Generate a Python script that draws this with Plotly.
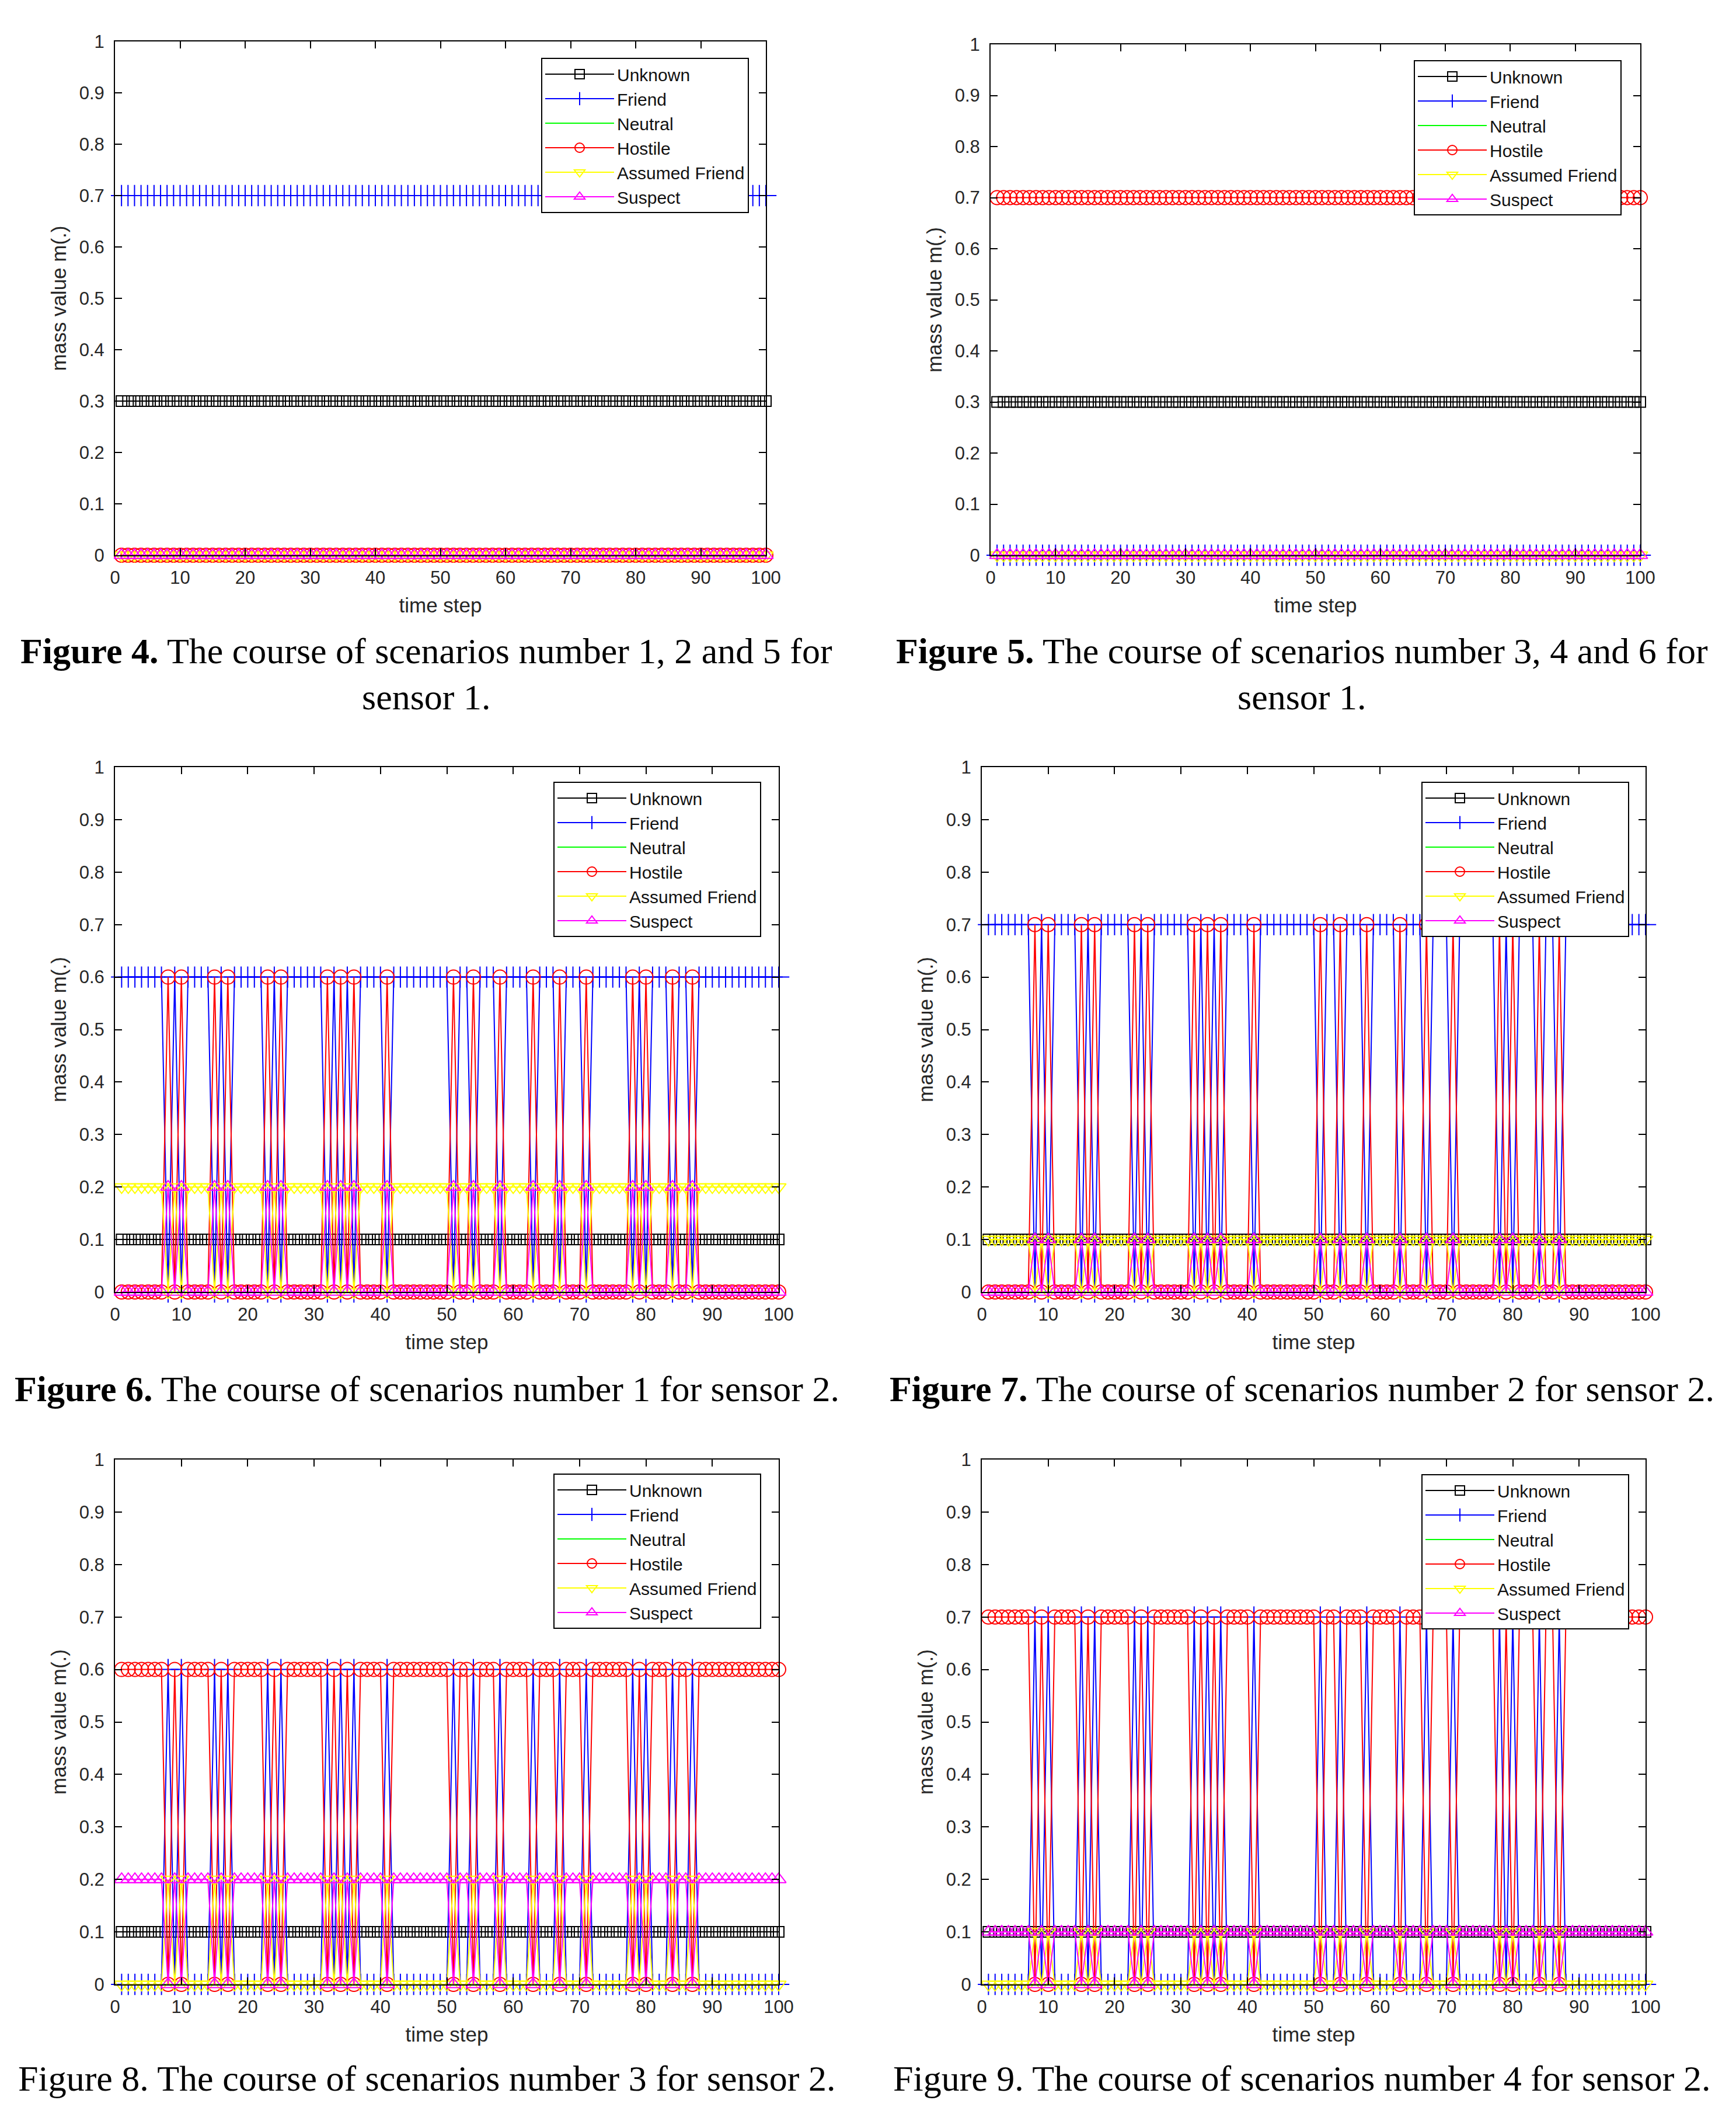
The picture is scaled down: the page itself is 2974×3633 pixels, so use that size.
import plotly.graph_objects as go

W, H = 2974, 3633

# DATA
time_step = list(range(1, 102))
spike_steps = [8, 10, 15, 17, 23, 25, 32, 34, 36, 41, 51, 54, 58, 63, 67, 71, 78, 80, 84, 87]
classes = ["Unknown", "Friend", "Neutral", "Hostile", "Assumed Friend", "Suspect"]

# mass value of each class on ordinary steps / on spike steps
fig4_base = [0.3, 0.7, 0, 0, 0, 0]
fig5_base = [0.3, 0, 0, 0.7, 0, 0]
fig6_base = [0.1, 0.6, 0, 0, 0.2, 0]
fig6_spike = [0.1, 0, 0, 0.6, 0, 0.2]
fig7_base = [0.1, 0.7, 0, 0, 0.1, 0]
fig7_spike = [0.1, 0, 0, 0.7, 0, 0.1]
fig8_base = [0.1, 0, 0, 0.6, 0, 0.2]
fig8_spike = [0.1, 0.6, 0, 0, 0.2, 0]
fig9_base = [0.1, 0, 0, 0.7, 0, 0.1]
fig9_spike = [0.1, 0.7, 0, 0, 0.1, 0]

x_ticks = [0, 10, 20, 30, 40, 50, 60, 70, 80, 90, 100]
y_ticks = [0, 0.1, 0.2, 0.3, 0.4, 0.5, 0.6, 0.7, 0.8, 0.9, 1]
y_tick_labels = ["0", "0.1", "0.2", "0.3", "0.4", "0.5", "0.6", "0.7", "0.8", "0.9", "1"]

captions = [
    ["<b>Figure 4.</b> The course of scenarios number 1, 2 and 5 for", "sensor 1."],
    ["<b>Figure 5.</b> The course of scenarios number 3, 4 and 6 for", "sensor 1."],
    ["<b>Figure 6.</b> The course of scenarios number 1 for sensor 2."],
    ["<b>Figure 7.</b> The course of scenarios number 2 for sensor 2."],
    ["Figure 8. The course of scenarios number 3 for sensor 2."],
    ["Figure 9. The course of scenarios number 4 for sensor 2."],
]

# LAYOUT (pixels on the page)
panels = [
    dict(base=fig4_base, spike=None, box=(197, 71, 1312, 951), leg=(1283, 99), cap_x=730, cap_y=[1115, 1194]),
    dict(base=fig5_base, spike=None, box=(1697, 76, 2810, 951), leg=(2778, 103), cap_x=2230, cap_y=[1115, 1194]),
    dict(base=fig6_base, spike=fig6_spike, box=(197, 1314, 1334, 2213), leg=(1304, 1339), cap_x=731, cap_y=[2379]),
    dict(base=fig7_base, spike=fig7_spike, box=(1682, 1314, 2819, 2213), leg=(2791, 1339), cap_x=2230, cap_y=[2379]),
    dict(base=fig8_base, spike=fig8_spike, box=(197, 2500, 1334, 3399), leg=(1304, 2524), cap_x=731, cap_y=[3560]),
    dict(base=fig9_base, spike=fig9_spike, box=(1682, 2500, 2819, 3399), leg=(2791, 2525), cap_x=2230, cap_y=[3560]),
]

styles = {
    "Unknown": dict(color="#000000", symbol="square-open", size=18),
    "Friend": dict(color="#0000ff", symbol="cross-thin-open", size=26),
    "Neutral": dict(color="#00ff00", symbol=None, size=0),
    "Hostile": dict(color="#ff0000", symbol="circle-open", size=24),
    "Assumed Friend": dict(color="#ffff00", symbol="triangle-down-open", size=22),
    "Suspect": dict(color="#ff00ff", symbol="triangle-up-open", size=22),
}

AX_FONT = "Liberation Sans"
TXT = "#262626"

fig = go.Figure()
layout = dict(
    width=W, height=H, autosize=False,
    margin=dict(l=0, r=0, t=0, b=0, pad=0, autoexpand=False),
    paper_bgcolor="white", plot_bgcolor="white",
    annotations=[],
)

for i, p in enumerate(panels):
    n = "" if i == 0 else str(i + 1)
    left, top, right, bottom = p["box"]
    for k, name in enumerate(classes):
        st = styles[name]
        if p["spike"] is None:
            y = [p["base"][k] for t in time_step]
        else:
            y = [p["spike"][k] if t in spike_steps else p["base"][k] for t in time_step]
        trace = dict(
            x=time_step, y=y, name=name,
            xaxis="x" + n, yaxis="y" + n, legend="legend" + n,
            line=dict(color=st["color"], width=2),
            cliponaxis=False,
            hoverinfo="skip",
        )
        if st["symbol"]:
            trace["mode"] = "lines+markers"
            trace["marker"] = dict(symbol=st["symbol"], size=st["size"], color=st["color"],
                                   line=dict(color=st["color"], width=2))
        else:
            trace["mode"] = "lines"
        fig.add_trace(go.Scatter(**trace))

    layout["xaxis" + n] = dict(
        domain=[left / W, right / W], anchor="y" + n, automargin=False,
        range=[0, 100], tickvals=x_ticks,
        ticks="inside", ticklen=12, tickwidth=2, tickcolor="black",
        showline=True, linecolor="black", linewidth=2, mirror="ticks",
        showgrid=False, zeroline=False,
        tickfont=dict(family=AX_FONT, size=31, color=TXT),
        ticklabelstandoff=10,
        title=dict(text="time step", font=dict(family=AX_FONT, size=35, color=TXT), standoff=18),
    )
    layout["yaxis" + n] = dict(
        domain=[1 - bottom / H, 1 - top / H], anchor="x" + n, automargin=False,
        range=[0, 1], tickvals=y_ticks, ticktext=y_tick_labels,
        ticks="inside", ticklen=12, tickwidth=2, tickcolor="black",
        showline=True, linecolor="black", linewidth=2, mirror="ticks",
        showgrid=False, zeroline=False,
        tickfont=dict(family=AX_FONT, size=31, color=TXT),
        ticklabelstandoff=10,
        title=dict(text="mass value m(.)", font=dict(family=AX_FONT, size=35, color=TXT), standoff=11),
    )
    layout["legend" + n] = dict(
        x=p["leg"][0] / W, y=1 - p["leg"][1] / H, xref="paper", yref="paper",
        xanchor="right", yanchor="top",
        bgcolor="white", bordercolor="black", borderwidth=2,
        font=dict(family=AX_FONT, size=30, color="#111111"),
        itemwidth=118, tracegroupgap=0,
    )
    for line, cy in zip(captions[i], p["cap_y"]):
        layout["annotations"].append(dict(
            text=line, x=p["cap_x"] / W, y=1 - cy / H, xref="paper", yref="paper",
            xanchor="center", yanchor="middle", showarrow=False,
            font=dict(family="Liberation Serif", size=62, color="black"),
        ))

fig.update_layout(**layout)
fig.write_html("out.html", config={"displayModeBar": False},
               post_script="document.body.style.margin='0';")
